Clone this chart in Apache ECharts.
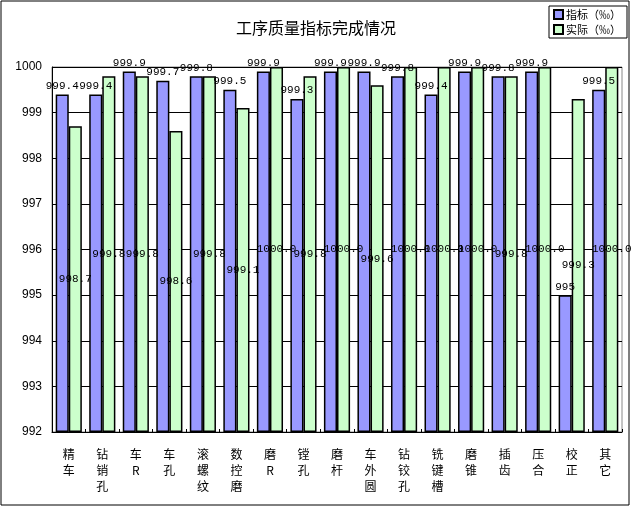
<!DOCTYPE html>
<html>
<head>
<meta charset="utf-8">
<script src="https://cdn.jsdelivr.net/npm/echarts@6/dist/echarts.min.js"></script>
<style>
  html, body { margin: 0; padding: 0; background: #fff; }
  #main { width: 632px; height: 507px; }
</style>
</head>
<body>
<div id="main"></div>
<script>
// 工序名称
var categories = ['精车', '钻销孔', '车R', '车孔', '滚螺纹', '数控磨', '磨R', '镗孔', '磨杆',
  '车外圆', '钻铰孔', '铣键槽', '磨锥', '插齿', '压合', '校正', '其它'];
// 指标（‰）
var planValues = [999.4, 999.4, 999.9, 999.7, 999.8, 999.5, 999.9, 999.3, 999.9,
  999.9, 999.8, 999.4, 999.9, 999.8, 999.9, 995, 999.5];
// 实际（‰）
var actualValues = [998.7, 999.8, 999.8, 998.6, 999.8, 999.1, 1000.0, 999.8, 1000.0,
  999.6, 1000.0, 1000.0, 1000.0, 999.8, 1000.0, 999.3, 1000.0];
var yMin = 992, yMax = 1000, yStep = 1;

var chart = echarts.init(document.getElementById('main'));

var labelFont = {
  fontFamily: 'Liberation Mono',
  fontSize: 11,
  color: '#000'
};

var option = {
  backgroundColor: '#ffffff',
  animation: false,
  graphic: [{
    type: 'rect',
    shape: { x: 1, y: 1, width: 628, height: 504 },
    style: { fill: 'none', stroke: '#000', lineWidth: 1 },
    silent: true
  }],
  title: {
    text: '工序质量指标完成情况',
    left: 'center',
    top: 15,
    textStyle: {
      fontFamily: 'Noto Sans CJK SC',
      fontSize: 16,
      fontWeight: 'normal',
      color: '#000'
    }
  },
  legend: {
    orient: 'vertical',
    right: 5,
    top: 6,
    itemWidth: 9,
    itemHeight: 9,
    itemGap: 4,
    padding: [3, 6, 3, 4],
    borderColor: '#000',
    borderWidth: 1,
    icon: 'rect',
    textStyle: {
      fontFamily: 'Noto Sans CJK SC',
      fontSize: 11,
      color: '#000',
      padding: [0, 0, 0, -2]
    },
    data: ['指标（‰）', '实际（‰）']
  },
  grid: {
    left: 52,
    right: 10,
    top: 67,
    bottom: 75,
    show: true,
    borderColor: '#888',
    borderWidth: 1
  },
  xAxis: {
    type: 'category',
    data: categories,
    axisLine: { lineStyle: { color: '#000', width: 1 } },
    axisTick: { show: true, inside: true, length: 3, lineStyle: { color: '#000' } },
    axisLabel: {
      interval: 0,
      margin: 14,
      fontFamily: 'Noto Sans CJK SC',
      fontSize: 12,
      lineHeight: 16,
      color: '#000',
      verticalAlign: 'top',
      formatter: function (v) { return v.split('').join('\n'); }
    }
  },
  yAxis: {
    type: 'value',
    min: yMin,
    max: yMax,
    interval: yStep,
    startValue: yMin,
    axisLine: { show: true, lineStyle: { color: '#000', width: 1 } },
    axisTick: { show: false },
    splitLine: { show: true, lineStyle: { color: '#000', width: 1 } },
    axisLabel: {
      margin: 10,
      fontFamily: 'Liberation Sans',
      fontSize: 12,
      color: '#000',
      formatter: function (v) { return String(v); }
    }
  },
  series: [{
    name: '指标（‰）',
    type: 'bar',
    data: planValues,
    barGap: '0%',
    barCategoryGap: '22%',
    itemStyle: { color: '#9999FF', borderColor: '#000', borderWidth: 1.5 },
    label: Object.assign({
      show: true,
      position: 'top',
      distance: 3,
      formatter: function (p) {
        return p.value % 1 === 0 ? String(p.value) : p.value.toFixed(1);
      }
    }, labelFont)
  }, {
    name: '实际（‰）',
    type: 'bar',
    data: actualValues,
    itemStyle: { color: '#CCFFCC', borderColor: '#000', borderWidth: 1.5 },
    label: Object.assign({
      show: true,
      position: 'inside',
      formatter: function (p) { return p.value.toFixed(1); }
    }, labelFont)
  }]
};

chart.setOption(option);
</script>
</body>
</html>
